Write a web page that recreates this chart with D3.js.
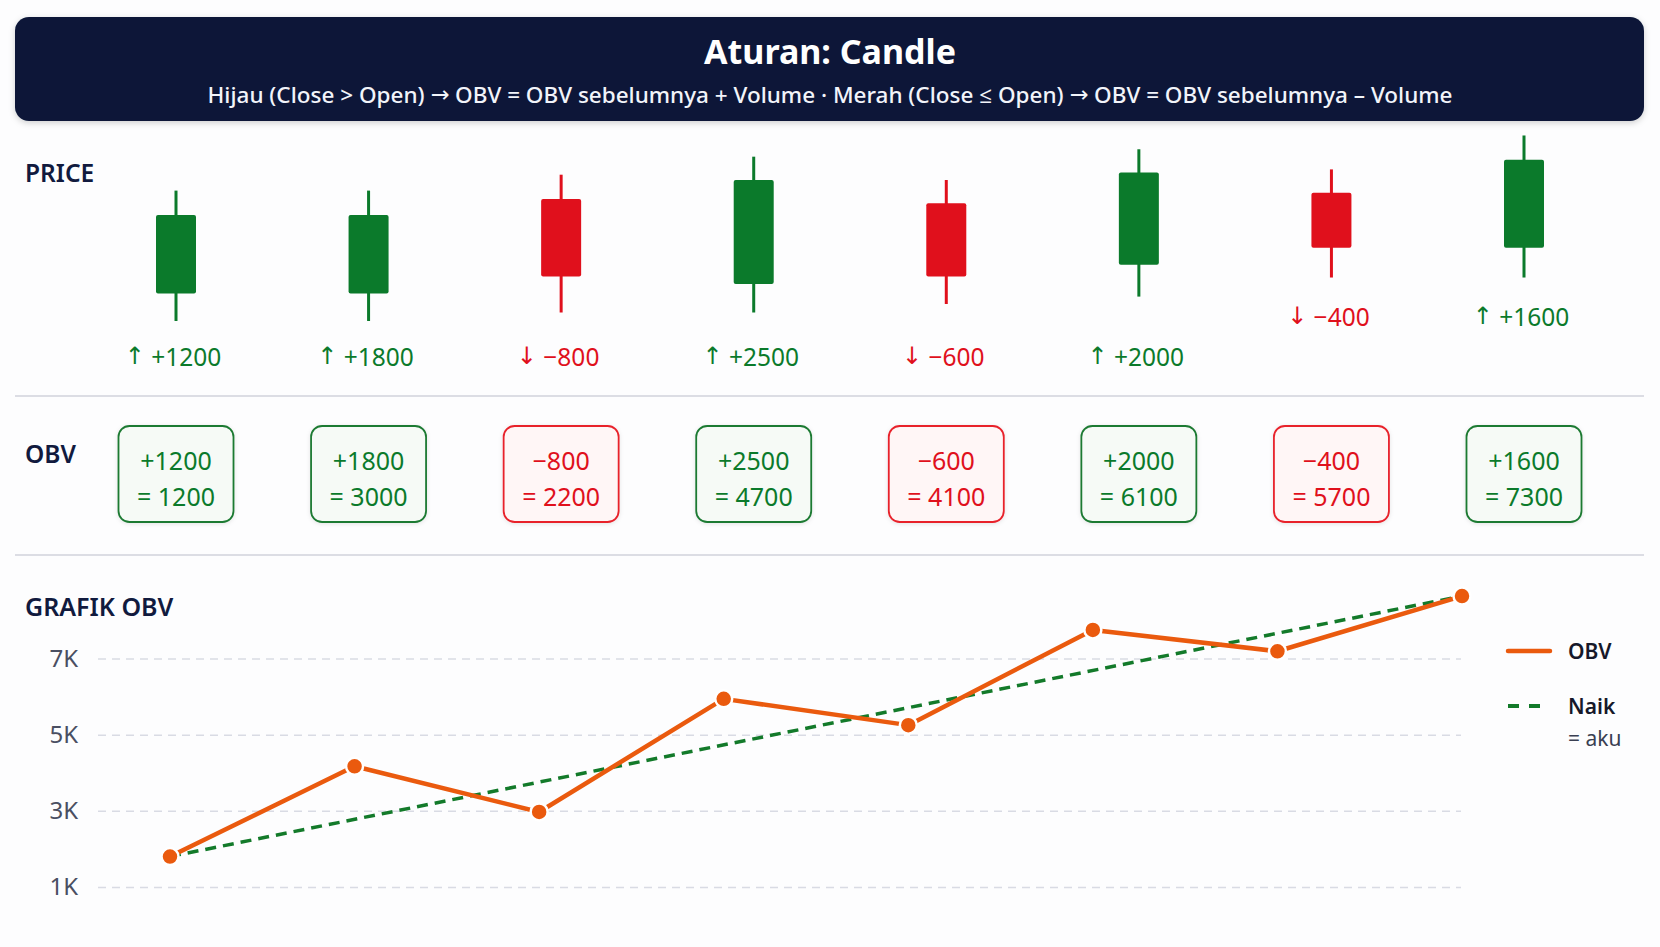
<!DOCTYPE html>
<html>
<head>
<meta charset="utf-8">
<script src="https://cdn.jsdelivr.net/npm/d3@7"></script>
<style>
  body { margin: 0; background: #fdfdfe; }
  text { font-family: "Noto Sans", "Open Sans", sans-serif; }
  tspan.arw { font-family: "DejaVu Sans", sans-serif; font-weight: 400; }
</style>
</head>
<body>
<script>
// canvas
var w = 1660;
var h = 947;

// candle data (price units)
var opens  = [21.5, 21.5, 66, 26, 64, 35, 69, 43];
var highs  = [70, 70, 77.5, 86, 75, 89.5, 80, 96];
var lows   = [8.5, 8.5, 12.5, 12.5, 16.5, 20, 29, 29];
var closes = [58.5, 58.5, 29.5, 75, 29.5, 78.5, 43, 84.5];

// signed volume per candle and running OBV shown in the boxes
var volumes   = [1200, 1800, -800, 2500, -600, 2000, -400, 1600];
var obvTotals = [1200, 3000, 2200, 4700, 4100, 6100, 5700, 7300];

// OBV as drawn on the line chart
var obvPlotted = [1800, 4170, 2970, 5940, 5250, 7750, 7190, 8640];
var trendIdx = [0, 7];
var trendVals = [1800, 8640];
var yTicks = [1000, 3000, 5000, 7000];

var GREEN = "#0b7a2b";
var RED = "#e0101c";
var NAVY = "#111a3e";
var ORANGE = "#ea5a0e";

var svg = d3.select("body").append("svg")
  .attr("width", w)
  .attr("height", h);

var defs = svg.append("defs");
var sh = defs.append("filter").attr("id", "shadow")
  .attr("x", "-10%").attr("y", "-20%").attr("width", "120%").attr("height", "150%");
sh.append("feDropShadow").attr("dx", 0).attr("dy", 2).attr("stdDeviation", 3)
  .attr("flood-color", "#000").attr("flood-opacity", 0.18);
var sh2 = defs.append("filter").attr("id", "boxshadow")
  .attr("x", "-20%").attr("y", "-20%").attr("width", "140%").attr("height", "140%");
sh2.append("feDropShadow").attr("dx", 0).attr("dy", 1).attr("stdDeviation", 2)
  .attr("flood-color", "#000").attr("flood-opacity", 0.10);

// header
svg.append("rect")
  .attr("x", 15).attr("y", 17).attr("width", 1629).attr("height", 104)
  .attr("rx", 14)
  .attr("fill", "#0a1839")
  .attr("filter", "url(#shadow)");

svg.append("text")
  .attr("x", 830).attr("y", 51)
  .attr("text-anchor", "middle").attr("dominant-baseline", "central")
  .attr("fill", "#fff").attr("font-size", 34).attr("font-weight", 700)
  .text("Aturan: Candle");

// subtitle, arrows drawn with a font that has proper arrow glyphs
var subParts = [
  ["Hijau (Close > Open) ", false], ["\u2192", true],
  [" OBV = OBV sebelumnya + Volume \u00b7 Merah (Close \u2264 Open) ", false], ["\u2192", true],
  [" OBV = OBV sebelumnya \u2013 Volume", false]
];
var sub = svg.append("text")
  .attr("x", 830).attr("y", 94)
  .attr("text-anchor", "middle").attr("dominant-baseline", "central")
  .attr("fill", "#f2f4fa").attr("font-size", 22.5).attr("font-weight", 500);
sub.selectAll("tspan")
  .data(subParts)
  .enter()
  .append("tspan")
  .attr("class", function(d) { return d[1] ? "arw" : null; })
  .text(function(d) { return d[0]; });

// section labels
function sectionLabel(txt, y, size) {
  svg.append("text")
    .attr("x", 25).attr("y", y)
    .attr("dominant-baseline", "central")
    .attr("fill", NAVY).attr("font-size", size).attr("font-weight", 600)
    .text(txt);
}
sectionLabel("PRICE", 172, 24.5);
sectionLabel("OBV", 453, 24.5);
sectionLabel("GRAFIK OBV", 606, 25);

// separators
[396, 555].forEach(function(y) {
  svg.append("line")
    .attr("x1", 15).attr("x2", 1644).attr("y1", y).attr("y2", y)
    .attr("stroke", "#dcdde4").attr("stroke-width", 2);
});

// candles
var idx = d3.range(opens.length);
var xCandle = d3.scalePoint().domain(idx).range([176, 1524]);
var yPrice = d3.scaleLinear().domain([0, 100]).range([339, 127]);

function isUp(i) { return closes[i] > opens[i]; }

var cg = svg.append("g").selectAll("g")
  .data(idx)
  .enter()
  .append("g");

cg.append("line")
  .attr("x1", function(i) { return xCandle(i); })
  .attr("x2", function(i) { return xCandle(i); })
  .attr("y1", function(i) { return yPrice(highs[i]); })
  .attr("y2", function(i) { return yPrice(lows[i]); })
  .attr("stroke", function(i) { return isUp(i) ? GREEN : RED; })
  .attr("stroke-width", 3);

cg.append("rect")
  .attr("x", function(i) { return xCandle(i) - 20; })
  .attr("width", 40)
  .attr("y", function(i) { return yPrice(Math.max(opens[i], closes[i])); })
  .attr("height", function(i) {
    return yPrice(Math.min(opens[i], closes[i])) - yPrice(Math.max(opens[i], closes[i]));
  })
  .attr("rx", 2)
  .attr("fill", function(i) { return isUp(i) ? GREEN : RED; });

var vl = cg.append("text")
  .attr("x", function(i) { return xCandle(i) - 3; })
  .attr("y", function(i) {
    // labels follow the candle when it sits high, otherwise share one row
    return lows[i] >= 25 ? yPrice(lows[i]) + 38 : 356;
  })
  .attr("text-anchor", "middle").attr("dominant-baseline", "central")
  .attr("font-size", 24.5)
  .attr("fill", function(i) { return volumes[i] > 0 ? GREEN : RED; });
vl.append("tspan")
  .attr("class", "arw")
  .attr("font-size", 24)
  .text(function(i) { return volumes[i] > 0 ? "\u2191" : "\u2193"; });
vl.append("tspan")
  .text(function(i) {
    return volumes[i] > 0 ? " +" + volumes[i] : " \u2212" + Math.abs(volumes[i]);
  });

// OBV boxes
var bg = svg.append("g").selectAll("g")
  .data(idx)
  .enter()
  .append("g")
  .attr("transform", function(i) { return "translate(" + xCandle(i) + ",0)"; });

bg.append("rect")
  .attr("x", -57.5).attr("y", 426).attr("width", 115).attr("height", 96)
  .attr("rx", 11)
  .attr("fill", function(i) { return volumes[i] > 0 ? "#f6faf6" : "#fff6f6"; })
  .attr("stroke", function(i) { return volumes[i] > 0 ? "#1d7a33" : "#e8222c"; })
  .attr("stroke-width", 1.8)
  .attr("filter", "url(#boxshadow)");

bg.append("text")
  .attr("y", 460)
  .attr("text-anchor", "middle").attr("dominant-baseline", "central")
  .attr("font-size", 25)
  .attr("fill", function(i) { return volumes[i] > 0 ? GREEN : RED; })
  .text(function(i) { return volumes[i] > 0 ? "+" + volumes[i] : "\u2212" + Math.abs(volumes[i]); });

bg.append("text")
  .attr("y", 496)
  .attr("text-anchor", "middle").attr("dominant-baseline", "central")
  .attr("font-size", 25)
  .attr("fill", function(i) { return volumes[i] > 0 ? GREEN : RED; })
  .text(function(i) { return "= " + obvTotals[i]; });

// OBV line chart
var xObv = d3.scalePoint().domain(idx).range([170, 1462]);
var yObv = d3.scaleLinear().domain([1000, 7000]).range([887, 658.5]);

var yAxis = d3.axisLeft(yObv)
  .tickValues(yTicks)
  .tickSize(-(1461 - 98))
  .tickPadding(20)
  .tickFormat(function(d) { return (d / 1000) + "K"; });

var ax = svg.append("g")
  .attr("class", "y axis")
  .attr("transform", "translate(98,0)")
  .call(yAxis);
ax.select(".domain").remove();
ax.selectAll(".tick line")
  .attr("stroke", "#d9dbe4").attr("stroke-width", 1.5)
  .attr("stroke-dasharray", "8,6");
ax.selectAll(".tick text")
  .attr("fill", "#4a4f62").attr("font-size", 24)
  .attr("font-family", "'Noto Sans', sans-serif");

var trendLine = d3.line()
  .x(function(d) { return xObv(d[0]); })
  .y(function(d) { return yObv(d[1]); });

svg.append("path")
  .datum(d3.zip(trendIdx, trendVals))
  .attr("d", trendLine)
  .attr("fill", "none")
  .attr("stroke", "#137a2a").attr("stroke-width", 3.5)
  .attr("stroke-dasharray", "11,7");

svg.append("path")
  .datum(d3.zip(idx, obvPlotted))
  .attr("d", trendLine)
  .attr("fill", "none")
  .attr("stroke", ORANGE).attr("stroke-width", 4.5)
  .attr("stroke-linejoin", "round");

svg.append("g").selectAll("circle")
  .data(idx)
  .enter()
  .append("circle")
  .attr("cx", function(i) { return xObv(i); })
  .attr("cy", function(i) { return yObv(obvPlotted[i]); })
  .attr("r", 8.5)
  .attr("fill", ORANGE)
  .attr("stroke", "#fff").attr("stroke-width", 2.5);

// legend
var lg = svg.append("g");
lg.append("line")
  .attr("x1", 1508).attr("x2", 1550).attr("y1", 651).attr("y2", 651)
  .attr("stroke", ORANGE).attr("stroke-width", 4.5).attr("stroke-linecap", "round");
lg.append("text")
  .attr("x", 1568).attr("y", 651).attr("dominant-baseline", "central")
  .attr("fill", "#16182a").attr("font-size", 21).attr("font-weight", 600)
  .text("OBV");
lg.append("line")
  .attr("x1", 1508).attr("x2", 1550).attr("y1", 706).attr("y2", 706)
  .attr("stroke", "#137a2a").attr("stroke-width", 4)
  .attr("stroke-dasharray", "11,10");
lg.append("text")
  .attr("x", 1568).attr("y", 706).attr("dominant-baseline", "central")
  .attr("fill", "#16182a").attr("font-size", 21).attr("font-weight", 600)
  .text("Naik");
lg.append("text")
  .attr("x", 1568).attr("y", 738).attr("dominant-baseline", "central")
  .attr("fill", "#3a3f52").attr("font-size", 21)
  .text("= aku");
</script>
</body>
</html>
